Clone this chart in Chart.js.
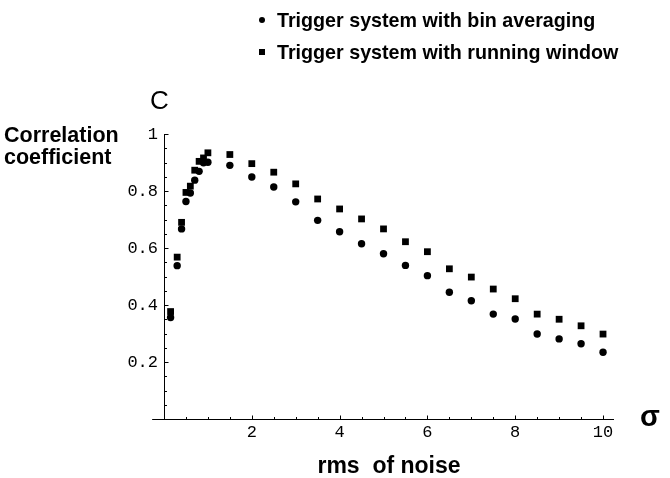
<!DOCTYPE html>
<html>
<head>
<meta charset="utf-8">
<script src="https://cdn.jsdelivr.net/npm/chart.js@4.4.0/dist/chart.umd.min.js"></script>
<style>
  body { margin: 0; background: #fff; }
  #wrap { position: relative; width: 670px; height: 478px; }
  .txt { position: absolute; font-family: "Liberation Sans", Arial, sans-serif; color: #000; white-space: nowrap; }
  .bold { font-weight: bold; }
  .legend-row { position: absolute; left: 259px; font-size: 19.7px; font-weight: bold; }
  .dot { display: inline-block; width: 6px; height: 6px; border-radius: 50%; background: #000; vertical-align: middle; margin-right: 12px; position: relative; top: -2px; }
  .sq { display: inline-block; width: 6px; height: 6px; background: #000; vertical-align: middle; margin-right: 12px; position: relative; top: -2px; }
</style>
</head>
<body>
<div id="wrap">
  <canvas id="chart" width="670" height="478"></canvas>
  <div class="txt legend-row" style="top: 9px;"><span class="dot"></span>Trigger system with bin averaging</div>
  <div class="txt legend-row" style="top: 41px;"><span class="sq"></span>Trigger system with running window</div>
  <div class="txt" style="left: 150px; top: 85px; font-size: 26px;">C</div>
  <div class="txt bold" style="left: 4px; top: 124px; font-size: 21.5px; line-height: 22px;">Correlation<br>coefficient</div>
  <div class="txt bold" style="left: 640px; top: 400px; font-size: 29px;">σ</div>
</div>
<script>
// data
const noiseRms = [0.15, 0.3, 0.4, 0.5, 0.6, 0.7, 0.8, 0.9, 1.0, 1.5, 2, 2.5, 3, 3.5, 4, 4.5, 5, 5.5, 6, 6.5, 7, 7.5, 8, 8.5, 9, 9.5, 10];
const binAveraging = [0.356, 0.538, 0.667, 0.763, 0.793, 0.838, 0.869, 0.899, 0.901, 0.89, 0.849, 0.814, 0.762, 0.697, 0.657, 0.615, 0.58, 0.539, 0.503, 0.445, 0.415, 0.368, 0.351, 0.298, 0.281, 0.264, 0.234];
const runningWindow = [0.377, 0.568, 0.69, 0.795, 0.817, 0.873, 0.904, 0.916, 0.934, 0.928, 0.896, 0.866, 0.825, 0.772, 0.737, 0.702, 0.667, 0.622, 0.587, 0.527, 0.498, 0.456, 0.422, 0.368, 0.35, 0.327, 0.298];
const xTickLabels = [2, 4, 6, 8, 10];
const yTickLabels = [0.2, 0.4, 0.6, 0.8, 1];

const toPoints = (ys) => noiseRms.map((x, i) => ({ x: x, y: ys[i] }));

// mathematica style axes crossing at the origin, ticks pointing inwards
const axesPlugin = {
  id: "mathAxes",
  beforeDatasetsDraw(chart) {
    const { ctx, scales } = chart;
    const x = scales.x, y = scales.y;
    const x0 = Math.round(x.getPixelForValue(0)) + 0.5;
    const y0 = Math.round(y.getPixelForValue(0)) + 0.5;
    ctx.save();
    ctx.strokeStyle = "#000";
    ctx.lineWidth = 1;
    ctx.beginPath();
    ctx.moveTo(x.getPixelForValue(-0.27), y0);
    ctx.lineTo(x.getPixelForValue(10.25), y0);
    ctx.moveTo(x0, y0);
    ctx.lineTo(x0, y.getPixelForValue(1));
    for (let v = 0.5; v <= 10; v += 0.5) {
      const px = Math.round(x.getPixelForValue(v)) + 0.5;
      const len = xTickLabels.includes(v) ? 4 : 2.5;
      ctx.moveTo(px, y0);
      ctx.lineTo(px, y0 - len);
    }
    for (let k = 1; k <= 20; k++) {
      const v = k * 0.05;
      const py = Math.round(y.getPixelForValue(v)) + 0.5;
      const len = k % 4 === 0 ? 4 : 2.5;
      ctx.moveTo(x0, py);
      ctx.lineTo(x0 + len, py);
    }
    ctx.stroke();
    ctx.restore();
  },
};

const ctx = document.getElementById("chart").getContext("2d");
new Chart(ctx, {
  type: "scatter",
  data: {
    datasets: [
      {
        label: "Trigger system with bin averaging",
        data: toPoints(binAveraging),
        pointStyle: "circle",
        pointRadius: 3.7,
        backgroundColor: "#000",
        borderWidth: 0,
      },
      {
        label: "Trigger system with running window",
        data: toPoints(runningWindow),
        pointStyle: "rect",
        pointRadius: 4.8,
        backgroundColor: "#000",
        borderWidth: 0,
      },
    ],
  },
  options: {
    responsive: false,
    animation: false,
    layout: { padding: { top: 134, right: 56, left: 0, bottom: 0 } },
    plugins: { legend: { display: false }, tooltip: { enabled: false } },
    scales: {
      x: {
        type: "linear",
        min: 0,
        max: 10.25,
        grid: { display: false, drawTicks: false },
        border: { display: false },
        afterBuildTicks: (s) => { s.ticks = xTickLabels.map((v) => ({ value: v })); },
        afterFit: (s) => { s.height = 59; },
        ticks: {
          padding: 3,
          color: "#000",
          font: { family: "'Liberation Mono', 'Courier New', monospace", size: 17 },
        },
        title: {
          display: true,
          text: "rms  of noise",
          color: "#000",
          padding: { top: 0, bottom: 0 },
          font: { family: "'Liberation Sans', Arial, sans-serif", size: 23, weight: "bold", lineHeight: 1.0 },
        },
      },
      y: {
        type: "linear",
        min: 0,
        max: 1,
        grid: { display: false, drawTicks: false },
        border: { display: false },
        afterBuildTicks: (s) => { s.ticks = yTickLabels.map((v) => ({ value: v })); },
        afterFit: (s) => { s.width = 164; },
        ticks: {
          padding: 6,
          color: "#000",
          font: { family: "'Liberation Mono', 'Courier New', monospace", size: 17 },
          callback: (v) => String(v),
        },
      },
    },
  },
  plugins: [axesPlugin],
});
</script>
</body>
</html>
